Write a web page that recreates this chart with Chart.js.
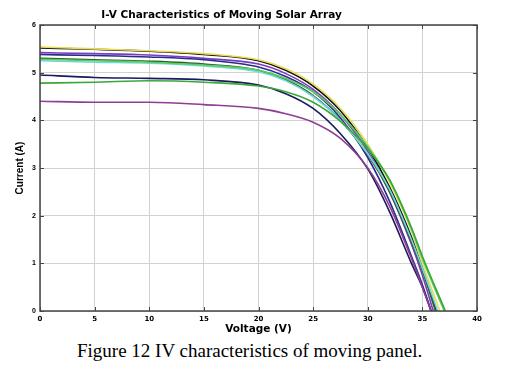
<!DOCTYPE html>
<html>
<head>
<meta charset="utf-8">
<title>I-V Characteristics of Moving Solar Array</title>
<script src="https://cdn.jsdelivr.net/npm/chart.js@4.4.1/dist/chart.umd.min.js"></script>
<style>
  html, body { margin: 0; padding: 0; background: #fff; }
  #wrap { position: relative; width: 519px; height: 372px; }
  #box { position: absolute; left: 0; top: 0; width: 519px; height: 340px; }
  #caption {
    position: absolute; left: 77px; top: 341px;
    font-family: "Liberation Serif", "Times New Roman", serif;
    font-size: 19px; line-height: 19px; color: #000; white-space: nowrap;
  }
</style>
</head>
<body>
<div id="wrap">
  <div id="box"><canvas id="ivChart"></canvas></div>
  <div id="caption">Figure 12 IV characteristics of moving panel.</div>
</div>
<script>
// voltage points where each current was read (V)
const voltageKnots = [0, 5, 10, 15, 20, 22.5, 25, 27.5, 30, 32, 34, 35];

// current readings (A), one array per curve, back to front
const curMagenta   = [4.40, 4.38, 4.38, 4.33, 4.25, 4.14, 3.96, 3.62, 3.00, 2.20, 1.10, 0.50];
const curGreen     = [4.78, 4.80, 4.83, 4.80, 4.72, 4.60, 4.38, 3.98, 3.40, 2.75, 1.75, 1.15];
const curNavy      = [4.95, 4.90, 4.88, 4.85, 4.74, 4.56, 4.25, 3.72, 2.98, 2.08, 1.00, 0.50];
const curLightGrn  = [5.28, 5.25, 5.22, 5.16, 5.05, 4.88, 4.60, 4.12, 3.45, 2.75, 1.72, 1.10];
const curCyan      = [5.25, 5.22, 5.20, 5.14, 5.02, 4.83, 4.50, 4.00, 3.30, 2.55, 1.50, 0.90];
const curDarkGrn   = [5.30, 5.27, 5.24, 5.18, 5.05, 4.85, 4.52, 4.00, 3.28, 2.50, 1.45, 0.85];
const curDarkBlue  = [5.38, 5.36, 5.33, 5.27, 5.12, 4.92, 4.60, 4.05, 3.22, 2.30, 1.15, 0.55];
const curPurple    = [5.42, 5.40, 5.37, 5.30, 5.18, 4.98, 4.65, 4.12, 3.35, 2.50, 1.40, 0.75];
const curYellow    = [5.54, 5.50, 5.46, 5.40, 5.27, 5.08, 4.76, 4.25, 3.50, 2.70, 1.68, 1.00];
const curBlack     = [5.52, 5.49, 5.45, 5.38, 5.25, 5.05, 4.72, 4.20, 3.42, 2.60, 1.55, 0.90];

const curves = [curMagenta, curGreen, curNavy, curLightGrn, curCyan,
                curDarkGrn, curDarkBlue, curPurple, curYellow, curBlack];
// open circuit voltage of each curve (V), where current reaches 0
const openCircuitV = [35.8, 37.1, 35.8, 37.0, 36.4, 36.2, 35.8, 36.0, 36.6, 36.3];
const curveColors = ["#8e3f93", "#3aa83a", "#1a1a5c", "#5ccc5c", "#70d8dc",
                     "#2f5f2f", "#2b2b8c", "#7a3cc0", "#e6dc5a", "#111111"];

const xTicks = [0, 5, 10, 15, 20, 25, 30, 35, 40];
const yTicks = [0, 1, 2, 3, 4, 5, 6];

const datasets = curves.map((cur, i) => {
  const pts = voltageKnots.map((v, k) => ({ x: v, y: cur[k] }));
  pts.push({ x: openCircuitV[i], y: 0 });
  return {
    data: pts,
    borderColor: curveColors[i],
    borderWidth: 1.6,
    pointRadius: 0,
    fill: false,
    cubicInterpolationMode: "monotone",
  };
});

// matlab style box, inward ticks and the title
const axesBox = {
  id: "axesBox",
  afterDraw(chart) {
    const { ctx, chartArea: a, scales } = chart;
    ctx.save();
    ctx.strokeStyle = "#444";
    ctx.lineWidth = 1;
    ctx.beginPath();
    xTicks.forEach((v) => {
      const px = Math.round(scales.x.getPixelForValue(v)) + 0.5;
      ctx.moveTo(px, a.bottom); ctx.lineTo(px, a.bottom - 4);
      ctx.moveTo(px, a.top); ctx.lineTo(px, a.top + 4);
    });
    yTicks.forEach((v) => {
      const py = Math.round(scales.y.getPixelForValue(v)) + 0.5;
      ctx.moveTo(a.left, py); ctx.lineTo(a.left + 4, py);
      ctx.moveTo(a.right, py); ctx.lineTo(a.right - 4, py);
    });
    ctx.stroke();
    ctx.lineWidth = 1.5;
    ctx.strokeRect(a.left, a.top, a.right - a.left, a.bottom - a.top);

    ctx.fillStyle = "#000";
    ctx.font = "bold 10.5px 'DejaVu Sans'";
    ctx.textAlign = "center";
    ctx.textBaseline = "alphabetic";
    ctx.fillText("I-V Characteristics of Moving Solar Array", 221.5, 18);
    ctx.restore();
  },
};

new Chart(document.getElementById("ivChart"), {
  type: "line",
  data: { datasets },
  plugins: [axesBox],
  options: {
    responsive: true,
    maintainAspectRatio: false,
    animation: false,
    layout: { padding: { top: 25, right: 42, left: 0, bottom: 0 } },
    plugins: {
      legend: { display: false },
      tooltip: { enabled: false },
    },
    scales: {
      x: {
        type: "linear",
        min: 0,
        max: 40,
        afterBuildTicks: (s) => { s.ticks = xTicks.map((v) => ({ value: v })); },
        afterFit: (s) => { s.height = 29; },
        ticks: {
          color: "#000",
          padding: 4,
          font: { family: "'DejaVu Sans'", size: 7, weight: "bold" },
        },
        grid: { color: "#d2d2d2", lineWidth: 1, drawTicks: false },
        border: { display: false },
        title: {
          display: true,
          text: "Voltage (V)",
          color: "#000",
          font: { family: "'DejaVu Sans'", size: 10.5, weight: "bold" },
          padding: { top: 0, bottom: 4 },
        },
      },
      y: {
        min: 0,
        max: 6,
        afterBuildTicks: (s) => { s.ticks = yTicks.map((v) => ({ value: v })); },
        afterFit: (s) => { s.width = 40; },
        ticks: {
          color: "#000",
          padding: 4,
          font: { family: "'Liberation Sans'", size: 7, weight: "bold" },
        },
        grid: { color: "#d2d2d2", lineWidth: 1, drawTicks: false },
        border: { display: false },
        title: {
          display: true,
          text: "Current (A)",
          color: "#000",
          font: { family: "'Liberation Sans'", size: 10, weight: "bold" },
          padding: { top: 14, bottom: 0 },
        },
      },
    },
  },
});
</script>
</body>
</html>
